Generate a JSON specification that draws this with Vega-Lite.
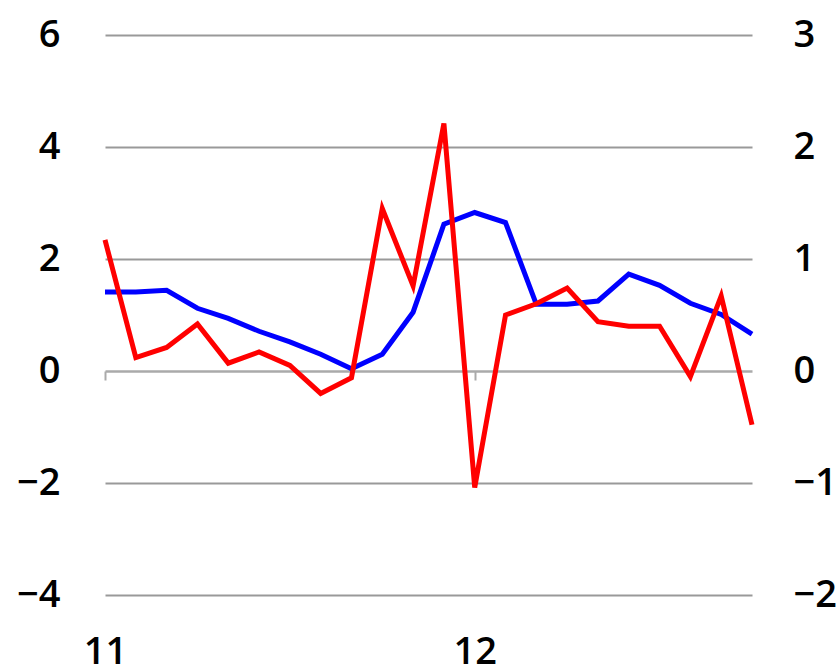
{
  "$schema": "https://vega.github.io/schema/vega-lite/v6.json",
  "autosize": "none",
  "width": 647,
  "height": 560,
  "padding": {"left": 105, "top": 35, "right": 87, "bottom": 71},
  "background": "white",
  "config": {
    "view": {"stroke": null},
    "axis": {"labelFont": "Open Sans", "labelFontSize": 38, "labelFontWeight": 600, "labelColor": "black"}
  },
  "data": {
    "values": [
      {"t": 0, "blue": 1.41, "red": 1.17},
      {"t": 1, "blue": 1.41, "red": 0.12},
      {"t": 2, "blue": 1.44, "red": 0.21},
      {"t": 3, "blue": 1.12, "red": 0.42},
      {"t": 4, "blue": 0.94, "red": 0.07},
      {"t": 5, "blue": 0.71, "red": 0.17},
      {"t": 6, "blue": 0.52, "red": 0.05},
      {"t": 7, "blue": 0.30, "red": -0.2},
      {"t": 8, "blue": 0.04, "red": -0.06},
      {"t": 9, "blue": 0.30, "red": 1.45},
      {"t": 10, "blue": 1.05, "red": 0.76},
      {"t": 11, "blue": 2.62, "red": 2.21},
      {"t": 12, "blue": 2.83, "red": -1.04},
      {"t": 13, "blue": 2.65, "red": 0.5},
      {"t": 14, "blue": 1.19, "red": 0.6},
      {"t": 15, "blue": 1.19, "red": 0.74},
      {"t": 16, "blue": 1.25, "red": 0.44},
      {"t": 17, "blue": 1.73, "red": 0.4},
      {"t": 18, "blue": 1.53, "red": 0.4},
      {"t": 19, "blue": 1.21, "red": -0.05},
      {"t": 20, "blue": 1.01, "red": 0.67},
      {"t": 21, "blue": 0.66, "red": -0.48}
    ]
  },
  "encoding": {
    "x": {
      "field": "t", "type": "quantitative",
      "scale": {"domain": [0, 21], "nice": false, "zero": false},
      "axis": {
        "title": null, "values": [0, 12], "grid": false,
        "offset": -224, "domainColor": "#aaaaaa", "domainWidth": 2.5,
        "tickColor": "#aaaaaa", "tickWidth": 2, "tickSize": 9,
        "labelPadding": 253, "labelFlush": false, "labelOverlap": false,
        "labelExpr": "datum.value == 0 ? '11' : '12'"
      }
    }
  },
  "layer": [
    {
      "mark": {"type": "line", "color": "#0000ff", "strokeWidth": 5, "strokeJoin": "miter"},
      "encoding": {
        "y": {
          "field": "blue", "type": "quantitative",
          "scale": {"domain": [-4, 6], "nice": false},
          "axis": {
            "title": null, "orient": "left", "values": [-4, -2, 0, 2, 4, 6],
            "domain": false, "ticks": false, "labelPadding": 45,
            "grid": true, "gridWidth": 2,
            "gridColor": {"condition": {"test": "datum.value === 0", "value": "transparent"}, "value": "#999999"}
          }
        }
      }
    },
    {
      "mark": {"type": "line", "color": "#ff0000", "strokeWidth": 5, "strokeJoin": "miter"},
      "encoding": {
        "y": {
          "field": "red", "type": "quantitative",
          "scale": {"domain": [-2, 3], "nice": false},
          "axis": {
            "title": null, "orient": "right", "values": [-2, -1, 0, 1, 2, 3],
            "domain": false, "ticks": false, "labelPadding": 41, "grid": false
          }
        }
      }
    }
  ],
  "resolve": {"scale": {"y": "independent"}}
}
